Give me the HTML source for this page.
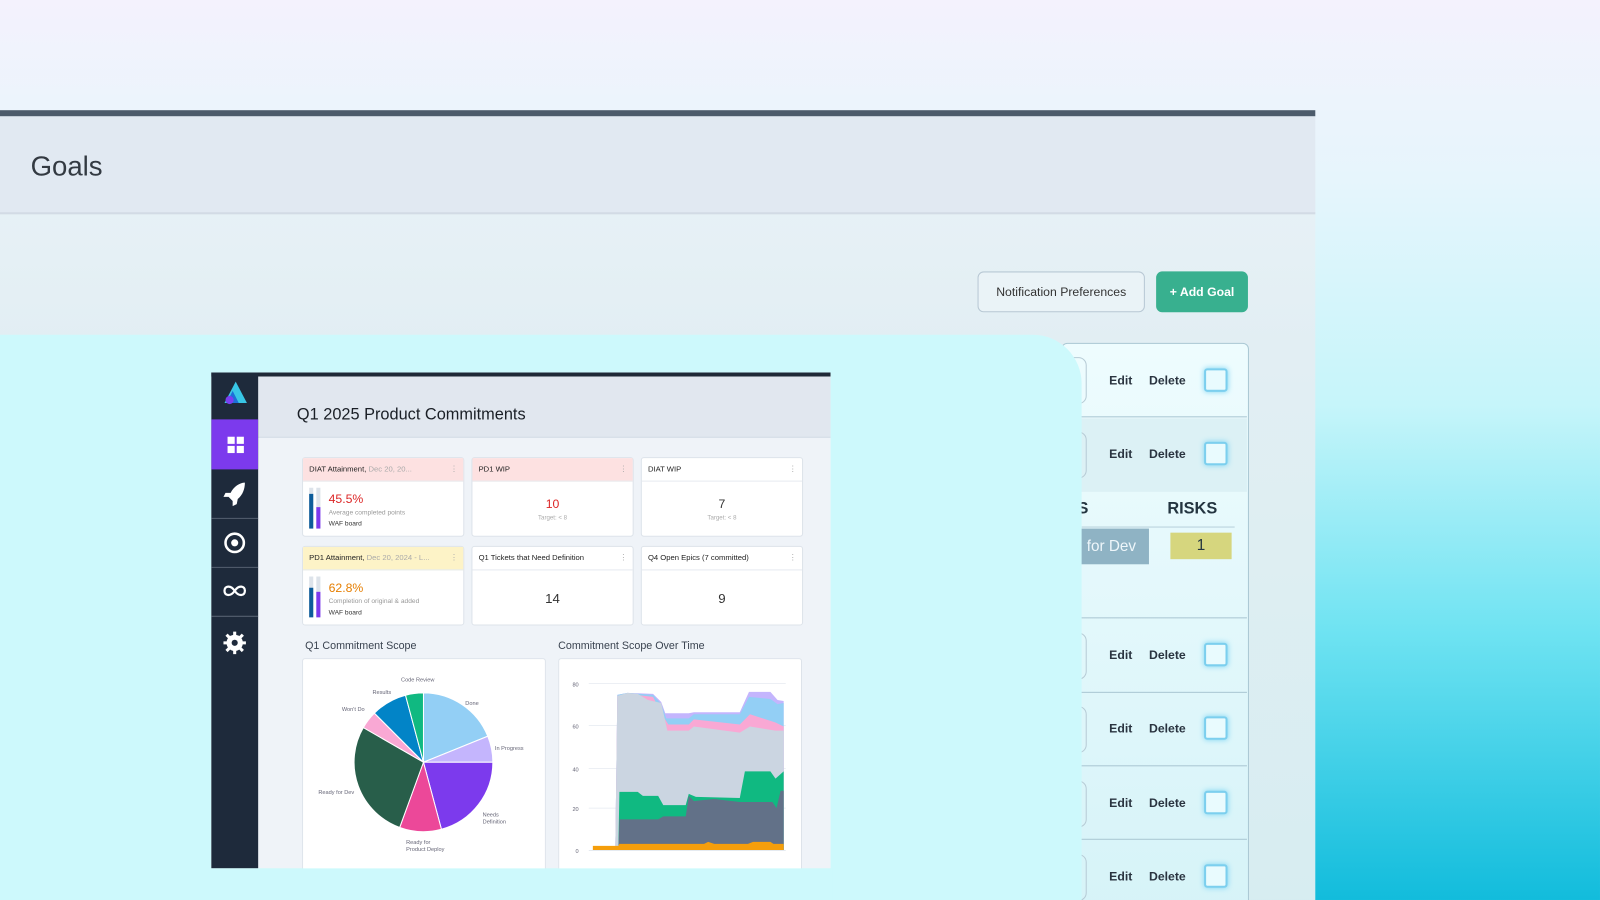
<!DOCTYPE html>
<html><head><meta charset="utf-8">
<style>
html,body{margin:0;padding:0;width:1600px;height:900px;overflow:hidden;}
body{font-family:"Liberation Sans",sans-serif;background:#eef3fc;}
#w{position:absolute;left:0;top:0;width:1568px;height:882px;transform:scale(1.0204);transform-origin:0 0;overflow:hidden;
background:linear-gradient(180deg,#f4f2fd 0%,#e6f5fc 20%,#c6f5fa 45%,#6fe3f2 70%,#12bcdc 100%);}
.abs{position:absolute;}
.txt{color:#2a3440;font-size:12px;font-weight:bold;}
.cb{position:absolute;width:19px;height:19px;border:2px solid #7ccfee;border-radius:3px;background:#e9fbfe;box-shadow:0 0 5px #7fd6f3;}
.card{position:absolute;background:#fff;border:1px solid #dde3ea;border-radius:3px;}
.ch{height:22px;border-bottom:1px solid #e6ebf0;font-size:7.5px;color:#222;line-height:22px;padding-left:6px;}
.dots{position:absolute;right:5px;top:6px;color:#aaa;font-size:8px;}
</style></head><body><div id="w">
<!-- left big panel -->
<div class="abs" style="left:0;top:108px;width:1289px;height:774px;background:linear-gradient(180deg,#eaf3f8 0%,#e2eef3 30%,#d7edf1 100%);"></div>
<div class="abs" style="left:0;top:108px;width:1289px;height:6px;background:#4c5b6b;"></div>
<div class="abs" style="left:0;top:114px;width:1289px;height:94px;background:#e1e9f2;border-bottom:2px solid #d2dbe5;"></div>
<div class="abs" style="left:30px;top:148px;font-size:27px;color:#333a42;">Goals</div>
<div class="abs" style="left:958px;top:266px;width:162px;height:38px;border:1px solid #b8c8d4;border-radius:6px;background:#eaf3f7;font-size:12px;color:#333;text-align:center;line-height:38px;">Notification Preferences</div>
<div class="abs" style="left:1133px;top:266px;width:90px;height:40px;border-radius:6px;background:#38b08f;font-size:12px;color:#fff;text-align:center;line-height:40px;font-weight:bold;">+ Add Goal</div>
<!-- table panel -->
<div class="abs" style="left:1040px;top:336px;width:182px;height:560px;border:1px solid #aac8d4;border-radius:6px;background:linear-gradient(180deg,#eefcfe,#d6f3f8);"></div>
<div class="abs" style="left:1040px;top:410px;width:182px;height:72px;background:#dcf1f5;"></div>
<div class="abs" style="left:1040px;top:408px;width:182px;height:1px;background:#a9c6d2;"></div>
<div class="abs" style="left:1040px;top:605px;width:182px;height:1px;background:#a9c6d2;"></div>
<div class="abs" style="left:1040px;top:678px;width:182px;height:1px;background:#a9c6d2;"></div>
<div class="abs" style="left:1040px;top:750px;width:182px;height:1px;background:#a9c6d2;"></div>
<div class="abs" style="left:1040px;top:822px;width:182px;height:1px;background:#a9c6d2;"></div>
<div class="abs txt" style="left:1087px;top:366px;">Edit</div><div class="abs txt" style="left:1126px;top:366px;">Delete</div><div class="cb" style="left:1180px;top:361px;"></div>
<div class="abs txt" style="left:1087px;top:438px;">Edit</div><div class="abs txt" style="left:1126px;top:438px;">Delete</div><div class="cb" style="left:1180px;top:433px;"></div>
<div class="abs" style="left:1144px;top:490px;font-size:16px;font-weight:bold;color:#243540;">RISKS</div>
<div class="abs" style="left:1056px;top:490px;font-size:16px;font-weight:bold;color:#243540;">S</div>
<div class="abs" style="left:1060px;top:516px;width:150px;height:1px;background:#b8d0da;"></div>
<div class="abs" style="left:1058px;top:518px;width:68px;height:35px;background:#8fb3c4;color:#eef6fa;font-size:15px;line-height:35px;padding-left:7px;box-sizing:border-box;">for Dev</div>
<div class="abs" style="left:1147px;top:522px;width:60px;height:26px;background:#d6d67e;font-size:15px;text-align:center;line-height:26px;color:#243540;">1</div>
<div class="abs txt" style="left:1087px;top:635px;">Edit</div><div class="abs txt" style="left:1126px;top:635px;">Delete</div><div class="cb" style="left:1180px;top:630px;"></div>
<div class="abs txt" style="left:1087px;top:707px;">Edit</div><div class="abs txt" style="left:1126px;top:707px;">Delete</div><div class="cb" style="left:1180px;top:702px;"></div>
<div class="abs txt" style="left:1087px;top:780px;">Edit</div><div class="abs txt" style="left:1126px;top:780px;">Delete</div><div class="cb" style="left:1180px;top:775px;"></div>
<div class="abs txt" style="left:1087px;top:852px;">Edit</div><div class="abs txt" style="left:1126px;top:852px;">Delete</div><div class="cb" style="left:1180px;top:847px;"></div>
<!-- row boxes partly hidden -->
<div class="abs" style="left:1020px;top:350px;width:43px;height:44px;border:1px solid #b6cbd5;border-radius:8px;"></div>
<div class="abs" style="left:1020px;top:423px;width:43px;height:44px;border:1px solid #b6cbd5;border-radius:8px;"></div>
<div class="abs" style="left:1020px;top:620px;width:43px;height:44px;border:1px solid #b6cbd5;border-radius:8px;"></div>
<div class="abs" style="left:1020px;top:692px;width:43px;height:44px;border:1px solid #b6cbd5;border-radius:8px;"></div>
<div class="abs" style="left:1020px;top:765px;width:43px;height:44px;border:1px solid #b6cbd5;border-radius:8px;"></div>
<div class="abs" style="left:1020px;top:837px;width:43px;height:44px;border:1px solid #b6cbd5;border-radius:8px;"></div>
<!-- cyan overlay card -->
<div class="abs" style="left:0;top:328px;width:1060px;height:560px;background:#cdf9fc;border-top-right-radius:48px;"></div>
<!-- dashboard -->
<div class="abs" style="left:207px;top:365px;width:607px;height:486px;background:#eff3f8;overflow:hidden;">
 <div class="abs" style="left:0;top:0;width:607px;height:4px;background:#1f2937;"></div>
 <div class="abs" style="left:46px;top:4px;width:561px;height:59px;background:#e1e7ef;border-bottom:1px solid #d3dbe5;"></div>
 <div class="abs" style="left:84px;top:33px;font-size:16px;color:#1a1f26;">Q1 2025 Product Commitments</div>
 <div class="abs" style="left:0;top:0;width:46px;height:486px;background:#1e2a3b;"></div>
 <svg class="abs" style="left:0;top:0" width="46" height="486">
  <polygon points="24,9 13,30 35,30" fill="#38c6e6"/><polygon points="21,18 15,30 27,30" fill="#1d6fd8"/><circle cx="18" cy="27" r="4" fill="#7a3ff0"/>
  <rect x="0" y="46" width="46" height="49" fill="#7c3aed"/>
  <g fill="#fff"><rect x="16" y="63" width="7" height="7"/><rect x="25" y="63" width="7" height="7"/><rect x="16" y="72" width="7" height="7"/><rect x="25" y="72" width="7" height="7"/></g>
  <g fill="none" stroke="#566070"><line x1="0" y1="143" x2="46" y2="143"/><line x1="0" y1="191" x2="46" y2="191"/><line x1="0" y1="239" x2="46" y2="239"/></g>
  <path d="M33 108 C28 108 22 112 19 118 L14 118 L12 122 L17 122 L21 126 L21 131 L25 129 L26 124 C31 120 33 114 33 108Z" fill="#fff"/>
  <circle cx="23" cy="167" r="9" fill="none" stroke="#fff" stroke-width="2.5"/><circle cx="23" cy="167" r="3.5" fill="#fff"/>
  <path d="M23 214 C19 208 13 209 13 214 C13 219 19 220 23 214 C27 208 33 209 33 214 C33 219 27 220 23 214Z" fill="none" stroke="#fff" stroke-width="2.2"/>
  <circle cx="23" cy="265" r="8" fill="#fff"/><circle cx="23" cy="265" r="3" fill="#1e2a3b"/>
  <g stroke="#fff" stroke-width="3"><line x1="23" y1="254" x2="23" y2="276"/><line x1="12" y1="265" x2="34" y2="265"/><line x1="15" y1="257" x2="31" y2="273"/><line x1="31" y1="257" x2="15" y2="273"/></g>
  <circle cx="23" cy="265" r="3" fill="#1e2a3b"/>
 </svg>
</div>
<!-- metric cards -->
<div class="card" style="left:296px;top:448px;width:157px;height:76px;"><div class="ch" style="background:#fde1e1;">DIAT Attainment, <span style="color:#aaa">Dec 20, 20...</span></div><span class="dots">⋮</span>
 <div class="abs" style="left:6px;top:29px;width:4px;height:40px;background:#dde3ea;"></div><div class="abs" style="left:6px;top:35px;width:4px;height:34px;background:#0d5c9a;"></div>
 <div class="abs" style="left:13px;top:29px;width:4px;height:40px;background:#dde3ea;"></div><div class="abs" style="left:13px;top:48px;width:4px;height:21px;background:#7c3aed;"></div>
 <div class="abs" style="left:25px;top:33px;font-size:12px;color:#dc2626;">45.5%</div>
 <div class="abs" style="left:25px;top:50px;font-size:6.5px;color:#999;">Average completed points</div>
 <div class="abs" style="left:25px;top:61px;font-size:6.5px;color:#333;">WAF board</div></div>
<div class="card" style="left:462px;top:448px;width:157px;height:76px;"><div class="ch" style="background:#fde1e1;">PD1 WIP</div><span class="dots">⋮</span>
 <div class="abs" style="left:0;top:38px;width:157px;text-align:center;font-size:12px;color:#dc2626;">10</div><div class="abs" style="left:0;top:56px;width:157px;text-align:center;font-size:6px;color:#aaa;">Target: &lt; 8</div></div>
<div class="card" style="left:628px;top:448px;width:157px;height:76px;"><div class="ch">DIAT WIP</div><span class="dots">⋮</span>
 <div class="abs" style="left:0;top:38px;width:157px;text-align:center;font-size:12px;color:#333;">7</div><div class="abs" style="left:0;top:56px;width:157px;text-align:center;font-size:6px;color:#aaa;">Target: &lt; 8</div></div>
<div class="card" style="left:296px;top:535px;width:157px;height:76px;"><div class="ch" style="background:#fdf3c7;">PD1 Attainment, <span style="color:#aaa">Dec 20, 2024 - L...</span></div><span class="dots">⋮</span>
 <div class="abs" style="left:6px;top:29px;width:4px;height:40px;background:#dde3ea;"></div><div class="abs" style="left:6px;top:40px;width:4px;height:29px;background:#0d5c9a;"></div>
 <div class="abs" style="left:13px;top:29px;width:4px;height:40px;background:#dde3ea;"></div><div class="abs" style="left:13px;top:44px;width:4px;height:25px;background:#7c3aed;"></div>
 <div class="abs" style="left:25px;top:33px;font-size:12px;color:#e67e00;">62.8%</div>
 <div class="abs" style="left:25px;top:50px;font-size:6.5px;color:#999;">Completion of original &amp; added</div>
 <div class="abs" style="left:25px;top:61px;font-size:6.5px;color:#333;">WAF board</div></div>
<div class="card" style="left:462px;top:535px;width:157px;height:76px;"><div class="ch">Q1 Tickets that Need Definition</div><span class="dots">⋮</span>
 <div class="abs" style="left:0;top:43px;width:157px;text-align:center;font-size:13px;color:#333;">14</div></div>
<div class="card" style="left:628px;top:535px;width:157px;height:76px;"><div class="ch">Q4 Open Epics (7 committed)</div><span class="dots">⋮</span>
 <div class="abs" style="left:0;top:43px;width:157px;text-align:center;font-size:13px;color:#333;">9</div></div>
<div class="abs" style="left:299px;top:627px;font-size:10.5px;color:#3a4350;">Q1 Commitment Scope</div>
<div class="abs" style="left:547px;top:627px;font-size:10.5px;color:#3a4350;">Commitment Scope Over Time</div>
<div class="card" style="left:296px;top:645px;width:237px;height:210px;border-bottom:none;"></div>
<div class="card" style="left:547px;top:645px;width:237px;height:210px;border-bottom:none;"></div>
<div class="abs" style="left:206px;top:851px;width:610px;height:40px;background:#cdf9fc;"></div>
<svg class="abs" style="left:0;top:0" width="1568" height="851">
 <g stroke="#fff" stroke-width="1">
  <path d="M415,747 L415,679 A68,68 0 0 1 478,721.5Z" fill="#93cff5"/>
  <path d="M415,747 L478,721.5 A68,68 0 0 1 483,747Z" fill="#c4b5fd"/>
  <path d="M415,747 L483,747 A68,68 0 0 1 432.6,812.7Z" fill="#7c3aed"/>
  <path d="M415,747 L432.6,812.7 A68,68 0 0 1 391.7,810.9Z" fill="#ec4899"/>
  <path d="M415,747 L391.7,810.9 A68,68 0 0 1 356.1,713Z" fill="#285e4a"/>
  <path d="M415,747 L356.1,713 A68,68 0 0 1 366.9,698.9Z" fill="#f9a8d4"/>
  <path d="M415,747 L366.9,698.9 A68,68 0 0 1 397.4,681.3Z" fill="#0284c7"/>
  <path d="M415,747 L397.4,681.3 A68,68 0 0 1 415,679Z" fill="#10b981"/>
 </g>
 <g font-size="5.5" fill="#667" font-family="Liberation Sans">
  <text x="393" y="668">Code Review</text><text x="365" y="680">Results</text><text x="335" y="697">Won't Do</text>
  <text x="456" y="691">Done</text><text x="485" y="735">In Progress</text><text x="473" y="800">Needs</text><text x="473" y="807">Definition</text>
  <text x="312" y="778">Ready for Dev</text><text x="398" y="827">Ready for</text><text x="398" y="834">Product Deploy</text>
  <text x="561" y="673">80</text><text x="561" y="714">60</text><text x="561" y="756">40</text><text x="561" y="795">20</text><text x="564" y="836">0</text>
 </g>
 <g stroke="#e5eaf0" stroke-width="0.7"><line x1="577" y1="670" x2="770" y2="670"/><line x1="577" y1="711" x2="770" y2="711"/><line x1="577" y1="753" x2="770" y2="753"/><line x1="577" y1="792" x2="770" y2="792"/></g>
 <polygon points="603,833 605,681 615,679 640,680 648,688 652,699 675,699 680,698 725,698 734,678 755,678 762,686 768,687 768,833" fill="#c4b5fd"/>
 <polygon points="603,833 605,681 615,679 640,681 648,690 653,704 675,704 680,700 725,700 734,683 755,685 762,690 768,689 768,833" fill="#93cff5"/>
 <polygon points="603,833 605,682 615,680 640,683 648,699 655,710 675,710 680,705 725,710 735,700 760,708 768,712 768,833" fill="#f9a8d4"/>
 <polygon points="603,833 605,682 615,679 625,680 635,686 648,689 654,716 675,716 680,712 725,718 735,712 760,716 768,716 768,833" fill="#cbd5e1"/>
 <polygon points="606,833 607,776 625,776 630,780 645,780 650,789 672,789 675,778 682,781 725,782 730,756 755,756 760,763 768,756 768,833" fill="#10b981"/>
 <polygon points="606,833 607,803 645,803 650,800 672,800 675,780 680,785 700,783 725,786 757,786 761,792 765,775 768,775 768,833" fill="#627188"/>
 <polygon points="581,833 581,829 606,829 607,827 690,827 694,825 700,827 733,827 738,825 755,825 758,827 768,827 768,833" fill="#f59e0b"/>
 <line x1="577" y1="833.5" x2="770" y2="833.5" stroke="#e5eaf0"/>
</svg>
</div></body></html>
